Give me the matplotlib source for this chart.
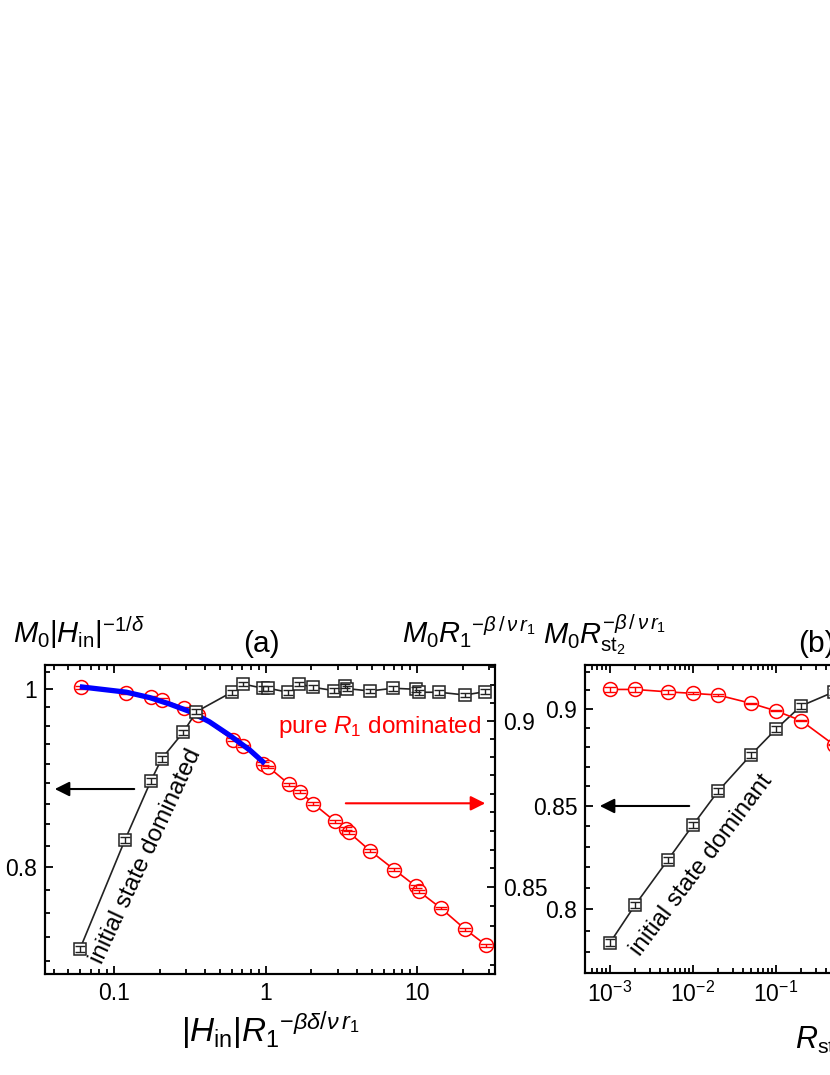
import numpy as np
import matplotlib
matplotlib.use('Agg')
import matplotlib.pyplot as plt
from matplotlib import ticker

plt.rcParams['font.family'] = ['Liberation Sans', 'DejaVu Sans']
plt.rcParams['mathtext.fontset'] = 'custom'
plt.rcParams['mathtext.rm'] = 'Liberation Sans'
plt.rcParams['mathtext.it'] = 'Liberation Sans:italic'
plt.rcParams['mathtext.bf'] = 'Liberation Sans:bold'

# ---------------- data: panel (a) ----------------
a_sq_x = [0.0595, 0.118, 0.175, 0.206, 0.286, 0.350, 0.597, 0.705, 0.964, 1.04,
          1.41, 1.667, 2.06, 2.84, 3.34, 3.46, 4.88, 6.96, 9.82, 10.33, 14.0, 20.7, 28.0]
a_sq_y = [0.7222, 0.828, 0.8916, 0.9165, 0.9476, 0.9724, 0.9963, 1.0067, 1.0013, 1.0013,
          0.9963, 1.0067, 1.0025, 0.9983, 1.0041, 1.0008, 0.9979, 1.0013, 1.0000, 0.9963,
          0.9963, 0.9929, 0.9970]
a_sq_err = [0.003] * 23

a_ci_x = [0.0601, 0.1197, 0.175, 0.2074, 0.2888, 0.3593, 0.6053, 0.7112, 0.9642, 1.04,
          1.432, 1.684, 2.062, 2.867, 3.39, 3.55, 4.88, 7.06, 9.82, 10.3, 14.3, 20.7, 28.5]
a_ci_y = [0.9104, 0.9087, 0.9074, 0.9066, 0.9040, 0.9019, 0.8942, 0.8923, 0.8869, 0.8859,
          0.8806, 0.8784, 0.8748, 0.8695, 0.8673, 0.8662, 0.8608, 0.8552, 0.8503, 0.8488,
          0.8440, 0.8379, 0.8333]
a_ci_err = [0.0004] * 23

a_fit_x = [0.0595, 0.1207, 0.1724, 0.2331, 0.3152, 0.4263, 0.5768, 0.7875, 0.989]
a_fit_y = [0.9106, 0.9089, 0.9072, 0.9052, 0.9029, 0.8997, 0.8956, 0.8910, 0.8869]

a_xticks = [0.1, 1, 10]
a_left_ticks = [0.8, 1.0]
a_right_ticks = [0.85, 0.9]

# ---------------- data: panel (b) ----------------
b_x = [1e-3, 2e-3, 5e-3, 1e-2, 2e-2, 5e-2, 0.1, 0.2, 0.5]
b_sq_y = [0.7845, 0.8020, 0.8237, 0.8407, 0.8575, 0.8761, 0.8894, 0.9016, 0.9091]
b_sq_err = [0.0015] * 9
b_ci_y = [0.9104, 0.9104, 0.9091, 0.9083, 0.9074, 0.9030, 0.8990, 0.8939, 0.8812]
b_ci_err = [0.0012, 0.0012, 0.0010, 0.0006, 0.0005, 0.0003, 0.0003, 0.0003, 0.0003]
b_left_ticks = [0.8, 0.85, 0.9]

RED = '#ff0000'
BLUE = '#0000ff'
W, H = 830, 1075
TICK_FS = 16.5

fig = plt.figure(figsize=(W / 100, H / 100), dpi=100)


def rect(l, t, r, b):
    return [l / W, 1 - b / H, (r - l) / W, (b - t) / H]


def gfmt(v, p):
    return f'{v:g}'


def series(ax, x, y, err, color, marker, ms, capsize, z):
    ax.plot(x, y, '-', color=color, lw=1.2, zorder=z)
    ax.plot(x, y, ls='none', marker=marker, ms=ms, mfc='white', mec=color,
            mew=1.1, zorder=z + 0.1)
    ax.errorbar(x, y, yerr=err, fmt='none', ecolor=color, elinewidth=1.0,
                capsize=capsize, capthick=1.0, zorder=z + 0.2)


def style_spines(ax):
    for s in ax.spines.values():
        s.set_linewidth(1.5)


# ================= panel (a) =================
axR = fig.add_axes(rect(44.7, 665, 495, 973.5))
axL = axR.twinx()
axR.yaxis.tick_right()
axR.yaxis.set_label_position('right')
axL.yaxis.tick_left()
axL.yaxis.set_label_position('left')

axR.set_xscale('log')
axR.set_xlim(0.03488, 32.63)
axR.set_yscale('log')
axR.set_ylim(0.82524, 0.91742)
axL.set_yscale('log')
axL.set_ylim(0.7005, 1.0309)

series(axR, a_ci_x, a_ci_y, a_ci_err, RED, 'o', 10, 4.2, 2)
axR.plot(a_fit_x, a_fit_y, '-', color=BLUE, lw=3.8, zorder=3, solid_capstyle='butt')
series(axL, a_sq_x, a_sq_y, a_sq_err, '#222222', 's', 9.3, 3.8, 2)

axR.xaxis.set_major_locator(ticker.FixedLocator(a_xticks))
axR.xaxis.set_major_formatter(ticker.FuncFormatter(gfmt))
axR.xaxis.set_minor_locator(ticker.LogLocator(base=10, subs=np.arange(2, 10)))
axR.xaxis.set_minor_formatter(ticker.NullFormatter())

axR.yaxis.set_major_locator(ticker.FixedLocator(a_right_ticks))
axR.yaxis.set_major_formatter(ticker.FuncFormatter(gfmt))
axR.yaxis.set_minor_locator(ticker.FixedLocator(0.85 + np.arange(-5, 13) * 0.05 / 9))
axR.yaxis.set_minor_formatter(ticker.NullFormatter())

axL.yaxis.set_major_locator(ticker.FixedLocator(a_left_ticks))
axL.yaxis.set_major_formatter(ticker.FuncFormatter(gfmt))
axL.yaxis.set_minor_locator(ticker.FixedLocator(0.8 + np.arange(-4, 11) * 0.2 / 9))
axL.yaxis.set_minor_formatter(ticker.NullFormatter())

axR.tick_params(axis='x', which='both', direction='in', top=True, bottom=True,
                labelsize=TICK_FS, pad=6, width=1.3)
axR.tick_params(axis='y', which='both', direction='in', right=True, left=False,
                labelright=True, labelleft=False, labelsize=TICK_FS, pad=5.5, width=1.3)
axL.tick_params(axis='y', which='both', direction='in', left=True, right=False,
                labelleft=True, labelright=False, labelsize=TICK_FS, pad=5.5, width=1.3)
for ax in (axR, axL):
    ax.tick_params(which='major', length=6)
    ax.tick_params(which='minor', length=3.5)
    style_spines(ax)

# annotations (a)
axL.annotate('', xy=(0.0162, 0.598), xytext=(0.205, 0.598), xycoords='axes fraction',
             arrowprops=dict(arrowstyle='-|>', color='black', lw=1.5, mutation_scale=22))
axL.annotate('', xy=(0.9845, 0.5517), xytext=(0.6625, 0.5517), xycoords='axes fraction',
             arrowprops=dict(arrowstyle='-|>', color=RED, lw=1.5, mutation_scale=22))
axL.text(0.518, 0.7806, r'pure $R_1$ dominated', transform=axL.transAxes, color=RED,
         fontsize=17.5, ha='left', va='baseline')
axL.text(0.128, 0.0276, 'initial state dominated', transform=axL.transAxes,
         fontsize=17.5, rotation=65, rotation_mode='anchor', ha='left', va='baseline')

# ================= panel (b) =================
axB = fig.add_axes(rect(585, 665, 1035, 973.3))
axBr = axB.twinx()
axB.yaxis.tick_left()
axB.set_xscale('log')
axB.set_xlim(10 ** -3.3012, 10 ** 2.1205)
for ax in (axB, axBr):
    ax.set_yscale('log')
    ax.set_ylim(0.77052, 0.92357)

series(axB, b_x, b_sq_y, b_sq_err, '#222222', 's', 9.3, 3.8, 2)
series(axBr, b_x, b_ci_y, b_ci_err, RED, 'o', 10, 4.2, 2)

axB.xaxis.set_major_locator(ticker.LogLocator(base=10, numticks=20))
axB.xaxis.set_major_formatter(ticker.LogFormatterSciNotation())
axB.xaxis.set_minor_locator(ticker.LogLocator(base=10, subs=np.arange(2, 10), numticks=20))
axB.xaxis.set_minor_formatter(ticker.NullFormatter())
axB.yaxis.set_major_locator(ticker.FixedLocator(b_left_ticks))
axB.yaxis.set_major_formatter(ticker.FuncFormatter(gfmt))
axB.yaxis.set_minor_locator(ticker.FixedLocator(0.8 + np.arange(-2, 13) * 0.01))
axB.yaxis.set_minor_formatter(ticker.NullFormatter())
axBr.yaxis.set_major_locator(ticker.FixedLocator(b_left_ticks))
axBr.yaxis.set_minor_formatter(ticker.NullFormatter())

axB.tick_params(axis='x', which='both', direction='in', top=True, bottom=True,
                labelsize=TICK_FS, pad=6, width=1.3)
axB.tick_params(axis='y', which='both', direction='in', left=True, right=False,
                labelsize=TICK_FS, pad=5.5, width=1.3)
axBr.tick_params(axis='y', which='both', direction='in', labelsize=TICK_FS, width=1.3)
for ax in (axB, axBr):
    ax.tick_params(which='major', length=6)
    ax.tick_params(which='minor', length=3.5)
    style_spines(ax)

axB.annotate('', xy=(0.0267, 0.5427), xytext=(0.2378, 0.5427), xycoords='axes fraction',
             arrowprops=dict(arrowstyle='-|>', color='black', lw=1.5, mutation_scale=22))
axBr.text(0.122, 0.0538, 'initial state dominant', transform=axB.transAxes,
          fontsize=17.5, rotation=53, rotation_mode='anchor', ha='left', va='baseline')

# ================= titles / axis labels =================
fig.text(13 / W, 1 - 643.3 / H, r'$M_0|H_{\rm in}|^{-1/\delta}$', fontsize=21,
         ha='left', va='baseline')
fig.text(261.5 / W, 1 - 651.7 / H, '(a)', fontsize=21.5, ha='center', va='baseline')
fig.text(401.7 / W, 1 - 643.3 / H, r'$M_0R_1{}^{-\beta\,/\,\nu\,r_1}$', fontsize=21,
         ha='left', va='baseline')
fig.text(543.3 / W, 1 - 643.3 / H, r'$M_0R_{\mathrm{st}_2}^{-\beta\,/\,\nu\,r_1}$',
         fontsize=21, ha='left', va='baseline')
fig.text(798.3 / W, 1 - 651.7 / H, '(b)', fontsize=21.5, ha='left', va='baseline')
fig.text(270 / W, 1 - 1042 / H, r'$|H_{\rm in}|R_1{}^{-\beta\delta/\nu\,r_1}$', fontsize=24,
         ha='center', va='baseline')
fig.text(795 / W, 1 - 1048 / H, r'$R_{\mathrm{st}_2}$', fontsize=22,
         ha='left', va='baseline')

fig.savefig('out.png', dpi=100)
